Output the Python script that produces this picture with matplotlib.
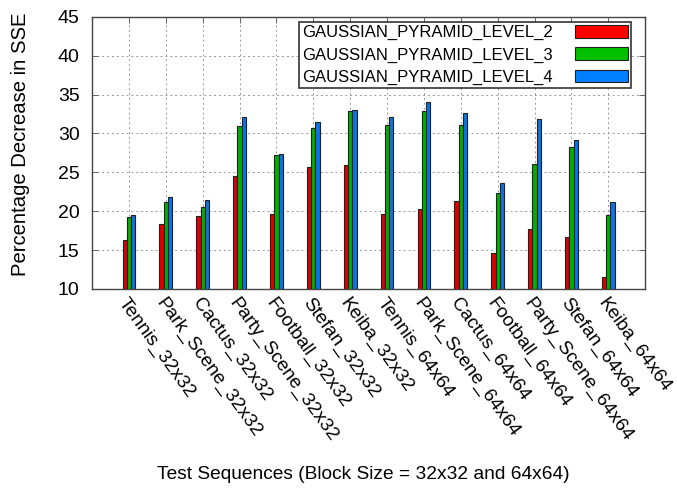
import matplotlib
matplotlib.use('Agg')
import matplotlib.pyplot as plt
import numpy as np

plt.rcParams['font.family'] = ['Liberation Sans', 'DejaVu Sans']

sequences = ['Tennis_32x32', 'Park_Scene_32x32', 'Cactus_32x32', 'Party_Scene_32x32',
             'Football_32x32', 'Stefan_32x32', 'Keiba_32x32',
             'Tennis_64x64', 'Park_Scene_64x64', 'Cactus_64x64', 'Football_64x64',
             'Party_Scene_64x64', 'Stefan_64x64', 'Keiba_64x64']
level_2 = [16.3, 18.3, 19.4, 24.5, 19.6, 25.7, 26.0, 19.7, 20.3, 21.3, 14.6, 17.7, 16.7, 11.6]
level_3 = [19.2, 21.2, 20.6, 31.0, 27.2, 30.7, 32.9, 31.1, 32.9, 31.1, 22.4, 26.1, 28.3, 19.5]
level_4 = [19.5, 21.8, 21.4, 32.1, 27.3, 31.5, 33.0, 32.1, 34.0, 32.6, 23.6, 31.8, 29.1, 21.2]

series = [('GAUSSIAN_PYRAMID_LEVEL_2', level_2, '#e00000'),
          ('GAUSSIAN_PYRAMID_LEVEL_3', level_3, '#00b000'),
          ('GAUSSIAN_PYRAMID_LEVEL_4', level_4, '#0a74e6')]

fig = plt.figure(figsize=(6.77, 4.94), dpi=100)
ax = fig.add_axes([0.136, 0.415, 0.817, 0.551])

x = np.arange(1, len(sequences) + 1)
w = 0.115
for k, (name, vals, col) in enumerate(series):
    ax.bar(x + (k - 1) * w, np.array(vals) - 10, w, bottom=10, color=col,
           edgecolor='#202020', linewidth=0.8, label=name, zorder=3)

ax.set_xlim(0, 15)
ax.set_ylim(10, 45)
ax.set_yticks(np.arange(10, 46, 5))
ax.set_xticks(x)
ax.set_xticklabels(sequences, rotation=-54, ha='left', va='top',
                   rotation_mode='anchor', fontsize=13.8)
ax.tick_params(axis='y', labelsize=14, pad=9)
ax.tick_params(axis='x', pad=4)
ax.tick_params(direction='in', top=True, right=True, length=4, width=0.6,
               color='#555555')
ax.grid(True, linestyle=(0, (2, 3)), color='#999999', linewidth=0.7, zorder=0)
for s in ax.spines.values():
    s.set_color('#444444')
    s.set_linewidth(1.0)

fig.text(0.03, 0.708, 'Percentage Decrease in SSE', rotation=90,
         ha='center', va='center', fontsize=14.6)
fig.text(0.537, 0.022, 'Test Sequences (Block Size = 32x32 and 64x64)',
         ha='center', va='bottom', fontsize=13.8)

leg = ax.legend(loc='upper right', bbox_to_anchor=(0.975, 0.982), markerfirst=False,
                fontsize=12, handlelength=3.2, handleheight=0.8, fancybox=False,
                framealpha=1, edgecolor='#333333', borderpad=0.2, labelspacing=0.42,
                handletextpad=1.3, borderaxespad=0)
leg.get_frame().set_linewidth(1.2)
for h, c in zip(leg.legend_handles, ['#ff0000', '#00c000', '#0080ff']):
    h.set_facecolor(c)

fig.savefig('out.png', dpi=100)
